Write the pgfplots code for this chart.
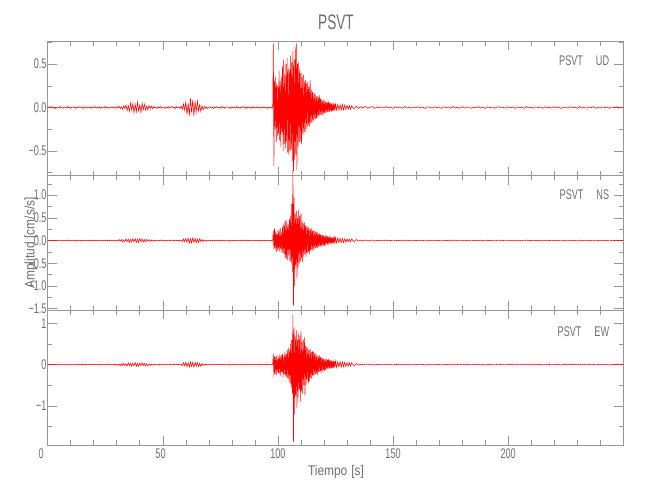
\documentclass[border=0pt]{standalone}
\usepackage{fontspec}
\setmainfont{Liberation Sans}[FakeStretch=0.65]
\newfontfamily\labfont{Liberation Sans}[FakeStretch=0.85]
\usepackage{pgfplots}
\usepackage{pgfplotstable}
\pgfplotsset{compat=1.18}
\definecolor{axgray}{RGB}{150,150,150}
\definecolor{txtgray}{RGB}{110,110,110}

% shared quiet segments
\pgfplotstableread[row sep=\\]{x y\\0 0\\0.5 0.006\\1 -0.004\\1.5 0.009\\2 0.002\\2.5 -0.008\\3 0.005\\3.5 -0.011\\4 0.003\\4.5 0.007\\5 -0.006\\5.5 0.01\\6 -0.002\\6.5 -0.009\\7 0.006\\7.5 0.001\\8 -0.007\\8.5 0.011\\9 -0.004\\9.5 0.005\\10 -0.01\\10.5 0.003\\11 0.008\\11.5 -0.005\\12 0.002\\12.5 -0.009\\13 0.007\\13.5 -0.003\\14 0.01\\14.5 -0.006\\15 0.004\\15.5 -0.011\\16 0.008\\16.5 0.001\\17 -0.006\\17.5 0.009\\18 -0.003\\18.5 0.005\\19 -0.009\\19.5 0.007\\20 -0.002\\20.5 0.01\\21 -0.007\\21.5 0.004\\22 -0.005\\22.5 0.008\\23 -0.01\\23.5 0.002\\24 0.006\\24.5 -0.008\\25 0.011\\25.5 -0.004\\26 0.003\\26.5 -0.009\\27 0.007\\27.5 -0.001\\28 0.009\\28.5 -0.006\\29 0.004\\29.5 -0.008\\30 0.01\\}\QA
\pgfplotstableread[row sep=\\]{x y\\46 0.012\\46.5 -0.006\\47 0.004\\47.5 -0.01\\48 0.008\\48.5 -0.003\\49 0.011\\49.5 -0.009\\50 0.002\\50.5 0.007\\51 -0.012\\51.5 0.005\\52 -0.004\\52.5 0.01\\53 -0.008\\53.5 0.003\\54 0.012\\54.5 -0.007\\55 0.004\\55.5 -0.011\\56 0.009\\56.5 -0.002\\57 0.006\\57.5 -0.013\\58 0.015\\}\QC
\pgfplotstableread[row sep=\\]{x y\\68 0.012\\68.5 -0.009\\69 0.006\\69.5 -0.012\\70 0.004\\70.5 0.009\\71 -0.007\\71.5 0.002\\72 -0.011\\72.5 0.008\\73 -0.004\\73.5 0.01\\74 -0.006\\74.5 0.003\\75 -0.009\\75.5 0.011\\76 -0.002\\76.5 0.006\\77 -0.01\\77.5 0.004\\78 0.008\\78.5 -0.007\\79 0.002\\79.5 -0.011\\80 0.009\\80.5 -0.003\\81 0.006\\81.5 -0.008\\82 0.01\\82.5 -0.005\\83 0.001\\83.5 -0.009\\84 0.007\\84.5 -0.004\\85 0.011\\85.5 -0.006\\86 0.003\\86.5 -0.01\\87 0.008\\87.5 -0.002\\88 0.005\\88.5 -0.009\\89 0.01\\89.5 -0.004\\90 0.002\\90.5 -0.007\\91 0.009\\91.5 -0.005\\92 0.003\\92.5 -0.008\\93 0.006\\93.5 -0.002\\94 0.009\\94.5 -0.006\\95 0.004\\95.5 -0.009\\96 0.007\\96.5 -0.003\\97 0.005\\97.5 -0.01\\}\QE
\pgfplotstableread[row sep=\\]{x y\\135 -0.012\\136 0.009\\137 -0.004\\138 0.012\\139 -0.008\\140 0.003\\141 0.01\\142 -0.011\\143 0.005\\144 -0.002\\145 0.009\\146 -0.007\\147 0.011\\148 -0.004\\149 0.002\\150 -0.01\\151 0.008\\152 -0.003\\153 0.006\\154 -0.009\\155 0.011\\156 -0.005\\157 0.001\\158 -0.008\\159 0.007\\160 -0.002\\161 0.01\\162 -0.006\\163 0.004\\164 -0.011\\165 0.008\\166 0.002\\167 -0.007\\168 0.009\\169 -0.003\\170 0.005\\171 -0.01\\172 0.007\\173 -0.001\\174 0.006\\175 -0.009\\176 0.011\\177 -0.004\\178 0.003\\179 -0.008\\180 0.01\\181 -0.006\\182 0.002\\183 0.007\\184 -0.01\\185 0.004\\186 -0.003\\187 0.009\\188 -0.007\\189 0.005\\190 -0.011\\191 0.008\\192 -0.002\\193 0.006\\194 -0.009\\195 0.003\\196 0.01\\197 -0.005\\198 0.001\\199 -0.008\\200 0.009\\201 -0.004\\202 0.006\\203 -0.01\\204 0.007\\205 -0.002\\206 0.004\\207 -0.009\\208 0.011\\209 -0.006\\210 0.003\\211 -0.007\\212 0.008\\213 -0.001\\214 0.005\\215 -0.01\\216 0.009\\217 -0.004\\218 0.002\\219 -0.008\\220 0.01\\221 -0.005\\222 0.006\\223 -0.011\\224 0.004\\225 0.001\\226 -0.007\\227 0.009\\228 -0.003\\229 0.005\\230 -0.009\\231 0.011\\232 -0.006\\233 0.002\\234 -0.008\\235 0.007\\236 -0.004\\237 0.01\\238 -0.009\\239 0.003\\240 -0.006\\241 0.008\\242 -0.002\\243 0.005\\244 -0.01\\245 0.007\\246 -0.003\\247 0.009\\248 -0.006\\249 0.004\\250 0\\}\QG

% UD
\pgfplotstableread[row sep=\\]{x y\\30 0.01\\30.5 -0.008\\31 0.016\\31.5 -0.012\\32 0.005\\32.5 -0.02\\33 0.018\\33.5 -0.01\\34 0.028\\34.5 -0.035\\35 0.02\\35.5 -0.042\\36 0.05\\36.5 -0.03\\37 0.045\\37.5 -0.06\\38 0.035\\38.5 -0.048\\39 0.062\\39.5 -0.04\\40 0.03\\40.5 -0.055\\41 0.05\\41.5 -0.025\\42 0.038\\42.5 -0.03\\43 0.015\\43.5 -0.028\\44 0.022\\44.5 -0.01\\45 0.016\\45.5 -0.014\\46 0.012\\}\SBud
\pgfplotstableread[row sep=\\]{x y\\58 0.015\\58.5 -0.02\\59 0.04\\59.5 -0.03\\60 0.065\\60.5 -0.08\\61 0.05\\61.5 -0.095\\62 0.105\\62.5 -0.06\\63 0.085\\63.5 -0.1\\64 0.07\\64.5 -0.05\\65 0.075\\65.5 -0.04\\66 0.03\\66.5 -0.045\\67 0.02\\67.5 -0.028\\68 0.012\\}\SDud
\pgfplotstableread[row sep=\\]{x y\\97.5 -0.01\\97.75 0.02\\98 0.74\\98.25 -0.67\\98.5 0.3\\98.75 -0.25\\99 0.35\\99.25 -0.4\\99.5 0.28\\99.75 -0.33\\100 0.25\\100.25 -0.3\\100.5 0.42\\100.75 -0.38\\101 0.3\\101.25 -0.45\\101.5 0.35\\101.75 -0.28\\102 0.48\\102.25 -0.5\\102.5 0.55\\102.75 -0.42\\103 0.38\\103.25 -0.47\\103.5 0.5\\103.75 -0.4\\104 0.57\\104.25 -0.52\\104.5 0.45\\104.75 -0.55\\105 0.42\\105.25 -0.5\\105.5 0.6\\105.75 -0.48\\106 0.52\\106.25 -0.62\\106.5 0.65\\106.75 -0.73\\107 0.55\\107.25 -0.6\\107.5 0.7\\107.75 -0.55\\108 0.74\\108.25 -0.72\\108.5 0.5\\108.75 -0.45\\109 0.52\\109.25 -0.4\\109.5 0.45\\109.75 -0.38\\110 0.4\\110.25 -0.42\\110.5 0.35\\110.75 -0.3\\111 0.38\\111.25 -0.32\\111.5 0.3\\111.75 -0.28\\112 0.32\\112.25 -0.25\\112.5 0.28\\112.75 -0.22\\113 0.3\\113.25 -0.2\\113.5 0.24\\113.75 -0.22\\114 0.32\\114.25 -0.18\\114.5 0.2\\114.75 -0.17\\115 0.18\\115.25 -0.16\\115.5 0.15\\115.75 -0.14\\116 0.17\\116.25 -0.13\\116.5 0.14\\116.75 -0.12\\117 0.13\\117.25 -0.11\\117.5 0.12\\117.75 -0.1\\118 0.14\\118.25 -0.09\\118.5 0.1\\118.75 -0.08\\119 0.09\\119.25 -0.085\\119.5 0.08\\119.75 -0.07\\120 0.085\\120.25 -0.065\\120.5 0.07\\120.75 -0.06\\121 0.065\\121.25 -0.055\\121.5 0.06\\121.75 -0.05\\122 0.07\\122.25 -0.05\\122.5 0.055\\122.75 -0.045\\123 0.05\\123.25 -0.045\\123.5 0.045\\123.75 -0.04\\124 0.05\\124.25 -0.035\\124.5 0.04\\124.75 -0.035\\125 0.038\\125.5 -0.03\\126 0.035\\126.5 -0.03\\127 0.03\\127.5 -0.028\\128 0.032\\128.5 -0.025\\129 0.027\\129.5 -0.022\\130 0.025\\130.5 -0.02\\131 0.022\\131.5 -0.02\\132 0.018\\133 -0.017\\134 0.016\\135 -0.012\\}\MFud

% NS
\pgfplotstableread[row sep=\\]{x y\\30 0.01\\30.5 -0.014\\31 0.022\\31.5 -0.01\\32 0.018\\32.5 -0.03\\33 0.015\\33.5 -0.025\\34 0.034\\34.5 -0.02\\35 0.028\\35.5 -0.04\\36 0.025\\36.5 -0.035\\37 0.045\\37.5 -0.028\\38 0.038\\38.5 -0.045\\39 0.03\\39.5 -0.04\\40 0.042\\40.5 -0.022\\41 0.035\\41.5 -0.03\\42 0.02\\42.5 -0.028\\43 0.024\\43.5 -0.012\\44 0.018\\44.5 -0.016\\45 0.01\\45.5 -0.015\\46 0.012\\}\SBns
\pgfplotstableread[row sep=\\]{x y\\58 0.015\\58.5 -0.018\\59 0.032\\59.5 -0.025\\60 0.045\\60.5 -0.035\\61 0.05\\61.5 -0.055\\62 0.038\\62.5 -0.05\\63 0.055\\63.5 -0.04\\64 0.048\\64.5 -0.05\\65 0.03\\65.5 -0.042\\66 0.035\\66.5 -0.022\\67 0.025\\67.5 -0.018\\68 0.012\\}\SDns
\pgfplotstableread[row sep=\\]{x y\\97.5 -0.01\\97.75 0.02\\98 0.22\\98.25 -0.2\\98.5 0.26\\98.75 -0.18\\99 0.2\\99.25 -0.25\\99.5 0.15\\99.75 -0.22\\100 0.24\\100.25 -0.17\\100.5 0.2\\100.75 -0.23\\101 0.27\\101.25 -0.2\\101.5 0.18\\101.75 -0.26\\102 0.3\\102.25 -0.28\\102.5 0.35\\102.75 -0.3\\103 0.42\\103.25 -0.38\\103.5 0.45\\103.75 -0.4\\104 0.38\\104.25 -0.43\\104.5 0.35\\104.75 -0.32\\105 0.48\\105.25 -0.45\\105.5 0.55\\105.75 -0.5\\106 0.8\\106.25 -0.7\\106.5 1.55\\106.75 -1.43\\107 0.95\\107.25 -1.0\\107.5 0.6\\107.75 -0.55\\108 0.65\\108.25 -0.83\\108.5 0.5\\108.75 -0.6\\109 0.67\\109.25 -0.5\\109.5 0.55\\109.75 -0.45\\110 0.6\\110.25 -0.4\\110.5 0.42\\110.75 -0.48\\111 0.38\\111.25 -0.35\\111.5 0.4\\111.75 -0.3\\112 0.33\\112.25 -0.36\\112.5 0.3\\112.75 -0.28\\113 0.32\\113.25 -0.25\\113.5 0.28\\113.75 -0.3\\114 0.25\\114.25 -0.22\\114.5 0.27\\114.75 -0.2\\115 0.22\\115.25 -0.24\\115.5 0.2\\115.75 -0.18\\116 0.22\\116.25 -0.17\\116.5 0.19\\116.75 -0.15\\117 0.2\\117.25 -0.16\\117.5 0.15\\117.75 -0.14\\118 0.16\\118.25 -0.12\\118.5 0.13\\118.75 -0.14\\119 0.12\\119.25 -0.11\\119.5 0.13\\119.75 -0.1\\120 0.11\\120.25 -0.12\\120.5 0.1\\120.75 -0.09\\121 0.11\\121.25 -0.08\\121.5 0.09\\121.75 -0.1\\122 0.08\\122.25 -0.07\\122.5 0.09\\122.75 -0.07\\123 0.08\\123.25 -0.065\\123.5 0.07\\123.75 -0.06\\124 0.075\\124.25 -0.06\\124.5 0.065\\124.75 -0.055\\125 0.06\\125.5 -0.05\\126 0.055\\126.5 -0.045\\127 0.05\\127.5 -0.045\\128 0.04\\128.5 -0.042\\129 0.038\\129.5 -0.035\\130 0.04\\130.5 -0.03\\131 0.032\\131.5 -0.028\\132 0.03\\133 -0.025\\134 0.022\\135 -0.012\\}\MFns

% EW
\pgfplotstableread[row sep=\\]{x y\\30 0.01\\30.5 -0.02\\31 0.012\\31.5 -0.028\\32 0.02\\32.5 -0.015\\33 0.032\\33.5 -0.025\\34 0.018\\34.5 -0.035\\35 0.04\\35.5 -0.022\\36 0.03\\36.5 -0.042\\37 0.035\\37.5 -0.028\\38 0.048\\38.5 -0.04\\39 0.025\\39.5 -0.045\\40 0.038\\40.5 -0.03\\41 0.042\\41.5 -0.02\\42 0.03\\42.5 -0.035\\43 0.018\\43.5 -0.025\\44 0.015\\44.5 -0.02\\45 0.012\\45.5 -0.014\\46 0.012\\}\SBew
\pgfplotstableread[row sep=\\]{x y\\58 0.015\\58.5 -0.025\\59 0.045\\59.5 -0.03\\60 0.055\\60.5 -0.048\\61 0.04\\61.5 -0.062\\62 0.065\\62.5 -0.045\\63 0.05\\63.5 -0.06\\64 0.058\\64.5 -0.038\\65 0.045\\65.5 -0.05\\66 0.03\\66.5 -0.04\\67 0.025\\67.5 -0.02\\68 0.012\\}\SDew
\pgfplotstableread[row sep=\\]{x y\\97.5 -0.01\\97.75 0.02\\98 0.26\\98.25 -0.3\\98.5 0.2\\98.75 -0.22\\99 0.18\\99.25 -0.25\\99.5 0.22\\99.75 -0.18\\100 0.15\\100.25 -0.2\\100.5 0.25\\100.75 -0.22\\101 0.2\\101.25 -0.28\\101.5 0.22\\101.75 -0.18\\102 0.26\\102.25 -0.3\\102.5 0.2\\102.75 -0.24\\103 0.3\\103.25 -0.27\\103.5 0.25\\103.75 -0.3\\104 0.35\\104.25 -0.32\\104.5 0.4\\104.75 -0.38\\105 0.33\\105.25 -0.45\\105.5 0.5\\105.75 -0.55\\106 0.6\\106.25 -0.7\\106.5 1.21\\106.75 -1.87\\107 0.9\\107.25 -1.2\\107.5 0.7\\107.75 -0.75\\108 0.83\\108.25 -1.05\\108.5 0.6\\108.75 -0.8\\109 0.75\\109.25 -0.6\\109.5 0.7\\109.75 -0.9\\110 0.8\\110.25 -0.65\\110.5 0.55\\110.75 -0.7\\111 0.6\\111.25 -0.5\\111.5 0.66\\111.75 -0.74\\112 0.45\\112.25 -0.5\\112.5 0.42\\112.75 -0.38\\113 0.4\\113.25 -0.45\\113.5 0.35\\113.75 -0.4\\114 0.38\\114.25 -0.32\\114.5 0.3\\114.75 -0.35\\115 0.32\\115.25 -0.28\\115.5 0.3\\115.75 -0.25\\116 0.28\\116.25 -0.24\\116.5 0.25\\116.75 -0.2\\117 0.22\\117.25 -0.25\\117.5 0.2\\117.75 -0.18\\118 0.22\\118.25 -0.17\\118.5 0.18\\118.75 -0.2\\119 0.16\\119.25 -0.15\\119.5 0.17\\119.75 -0.13\\120 0.14\\120.25 -0.15\\120.5 0.12\\120.75 -0.13\\121 0.14\\121.25 -0.11\\121.5 0.12\\121.75 -0.1\\122 0.13\\122.25 -0.1\\122.5 0.11\\122.75 -0.09\\123 0.1\\123.25 -0.09\\123.5 0.1\\123.75 -0.08\\124 0.09\\124.25 -0.08\\124.5 0.085\\124.75 -0.07\\125 0.08\\125.5 -0.07\\126 0.075\\126.5 -0.06\\127 0.07\\127.5 -0.06\\128 0.065\\128.5 -0.05\\129 0.055\\129.5 -0.05\\130 0.05\\130.5 -0.04\\131 0.045\\131.5 -0.035\\132 0.04\\133 -0.03\\134 0.025\\135 -0.012\\}\MFew

\pgfplotsset{
  panel/.style={
    scale only axis, width=575.6bp, height=134.6bp, anchor=south west,
    xmin=0, xmax=250, xtick={0,50,...,250}, minor x tick num=4,
    axis line style={draw=axgray, line width=0.6bp},
    every tick/.style={draw=axgray, line width=0.6bp},
    major tick length=9bp, minor tick length=4.5bp,
    tick align=inside, clip=false,
    ticklabel style={font=\fontsize{14bp}{14bp}\selectfont, text=txtgray, inner sep=0pt},
    yticklabel style={xshift=-1bp},
    xticklabel style={yshift=-3.3bp},
  },
  tr/.style={color=red, line width=0.55bp, mark=none},
}

\begin{document}
\begin{tikzpicture}
\path[use as bounding box] (0,0) rectangle (650bp,500bp);

\begin{axis}[panel, at={(47.7bp,324.2bp)}, ymin=-0.788, ymax=0.765,
  ytick={-0.5,0,0.5}, yticklabels={−0.5,0.0,0.5},
  minor ytick={-0.75,-0.25,0.25,0.75}, xticklabels={}]
\addplot[tr] table {\QA};
\addplot[tr] table {\SBud};
\addplot[tr] table {\QC};
\addplot[tr] table {\SDud};
\addplot[tr] table {\QE};
\addplot[tr] table {\MFud};
\addplot[tr] table {\QG};
\end{axis}

\begin{axis}[panel, at={(47.7bp,189.6bp)}, ymin=-1.54, ymax=1.427,
  ytick={-1.5,-1,-0.5,0,0.5,1}, yticklabels={−1.5,−1.0,−0.5,0.0,0.5,1.0},
  minor ytick={-1.25,-0.75,-0.25,0.25,0.75,1.25}, xticklabels={}]
\addplot[tr] table {\QA};
\addplot[tr] table {\SBns};
\addplot[tr] table {\QC};
\addplot[tr] table {\SDns};
\addplot[tr] table {\QE};
\addplot[tr] table {\MFns};
\addplot[tr] table {\QG};
\end{axis}

\begin{axis}[panel, at={(47.7bp,55bp)}, ymin=-1.95, ymax=1.313,
  ytick={-1,0,1}, yticklabels={−1,0,1},
  minor ytick={-1.5,-0.5,0.5},
  xticklabels={{\kern-6.5bp 0\kern6.5bp},{\kern-2.3bp 50\kern2.3bp},100,150,200,{}}]
\addplot[tr] table {\QA};
\addplot[tr] table {\SBew};
\addplot[tr] table {\QC};
\addplot[tr] table {\SDew};
\addplot[tr] table {\QE};
\addplot[tr] table {\MFew};
\addplot[tr] table {\QG};
\end{axis}

\node[text=txtgray, font=\fontsize{21bp}{21bp}\selectfont] at (336bp,477.5bp) {PSVT};
\node[text=txtgray, font=\labfont\fontsize{14bp}{14bp}\selectfont] at (336bp,28bp) {Tiempo\hspace{4bp}[s]};
\node[text=txtgray, rotate=90, font=\labfont\fontsize{14bp}{14bp}\selectfont] at (31bp,257bp) {Amplitud\hspace{4bp}[cm/s/s]};
\node[text=txtgray, anchor=east, inner sep=0pt, font=\fontsize{14bp}{14bp}\selectfont] at (609.3bp,439bp) {PSVT\hspace{13bp}UD};
\node[text=txtgray, anchor=east, inner sep=0pt, font=\fontsize{14bp}{14bp}\selectfont] at (609.3bp,305bp) {PSVT\hspace{13bp}NS};
\node[text=txtgray, anchor=east, inner sep=0pt, font=\fontsize{14bp}{14bp}\selectfont] at (609.3bp,168.3bp) {PSVT\hspace{13bp}EW};
\end{tikzpicture}
\end{document}
